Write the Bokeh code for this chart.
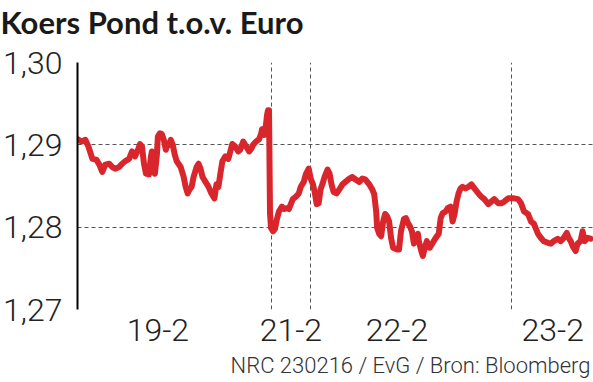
from bokeh.plotting import figure
from bokeh.models import Range1d, FixedTicker, ColumnDataSource, Title
from bokeh.embed import file_html
from bokeh.resources import INLINE

# hours since start of the chart window
uren = [0, 1, 2, 2.75, 3.75, 4.75, 5.5, 6.25, 7, 8, 8.75, 9.5, 10.5, 11.25, 12, 13, 13.75, 14.5,
        15.25, 15.75, 16.25, 16.75, 17.25, 18, 18.5, 18.75, 19.25, 19.5, 20, 20.25, 20.75, 21.25,
        21.75, 22.25, 22.5, 23, 23.5, 24, 24.5, 25, 26, 26.75, 27.25, 27.75, 28.25, 28.75, 29.25,
        30, 30.5, 31, 31.5, 32.25, 33, 33.75, 34.5, 35, 35.5, 36, 36.5, 37.25, 38, 38.5, 39, 39.75,
        40.5, 41, 41.75, 42.5, 43.25, 43.75, 44.25, 45, 45.75, 46.25, 46.5, 47, 47.5, 47.75, 48,
        48.25, 48.5, 48.75, 49.25, 49.75, 50.25, 50.75, 51.5, 52, 52.75, 53.25, 53.75, 54.25, 55,
        55.75, 56.25, 57, 57.5, 58.25, 58.75, 59.25, 59.75, 60.25, 60.75, 61.25, 61.75, 62.25, 63,
        63.5, 64, 64.5, 65.25, 66, 66.75, 67.5, 68.5, 69.25, 70, 71, 71.75, 72.5, 73.5, 74.25,
        74.75, 75.25, 75.5, 76, 76.5, 77, 77.5, 78, 78.5, 79, 79.5, 80.5, 81, 81.5, 82.25, 82.75,
        83.25, 83.75, 84.25, 84.75, 85.25, 85.75, 86, 86.5, 87, 87.5, 88, 88.75, 89.5, 90.25, 91,
        91.5, 92, 92.75, 93.25, 94, 94.5, 95, 95.5, 96, 96.5, 97, 97.75, 98.5, 99.25, 100, 101,
        101.75, 102.5, 103.5, 104.25, 105, 106, 106.75, 107.5, 108.5, 109.25, 110, 111, 111.75,
        112.5, 113.5, 114.25, 115, 116, 116.75, 117.5, 118.5, 119.25, 120, 121, 121.75, 122.5,
        123.25, 123.75, 124.25, 124.75, 125.5, 126, 126.75, 127.25, 127.75, 128.5, 129.25]

koers = [1.2907, 1.2904, 1.2906, 1.2898, 1.2883, 1.2882, 1.2876, 1.2867, 1.2876, 1.2877, 1.2873,
         1.2871, 1.2873, 1.2877, 1.2880, 1.2883, 1.2892, 1.2886, 1.2894, 1.2901, 1.2898, 1.2877,
         1.2865, 1.2864, 1.2886, 1.2892, 1.2877, 1.2865, 1.2888, 1.2910, 1.2914, 1.2913, 1.2906,
         1.2894, 1.2898, 1.2900, 1.2906, 1.2900, 1.2888, 1.2880, 1.2873, 1.2861, 1.2849, 1.2841,
         1.2846, 1.2849, 1.2861, 1.2873, 1.2877, 1.2871, 1.2861, 1.2855, 1.2849, 1.2841, 1.2835,
         1.2852, 1.2849, 1.2865, 1.2880, 1.2886, 1.2883, 1.2892, 1.2901, 1.2898, 1.2892, 1.2894,
         1.2904, 1.2898, 1.2892, 1.2895, 1.2900, 1.2904, 1.2907, 1.2913, 1.2919, 1.2912, 1.2925,
         1.2936, 1.2942, 1.2942, 1.2817, 1.2799, 1.2795, 1.2798, 1.2810, 1.2819, 1.2825, 1.2822,
         1.2823, 1.2822, 1.2828, 1.2834, 1.2837, 1.2841, 1.2849, 1.2855, 1.2864, 1.2871, 1.2859,
         1.2853, 1.2843, 1.2828, 1.2829, 1.2846, 1.2853, 1.2861, 1.2870, 1.2865, 1.2852, 1.2843,
         1.2841, 1.2846, 1.2852, 1.2855, 1.2859, 1.2861, 1.2858, 1.2855, 1.2859, 1.2858, 1.2852,
         1.2846, 1.2840, 1.2819, 1.2799, 1.2792, 1.2789, 1.2807, 1.2816, 1.2813, 1.2807, 1.2787,
         1.2775, 1.2773, 1.2773, 1.2795, 1.2810, 1.2811, 1.2805, 1.2801, 1.2795, 1.2780, 1.2787,
         1.2792, 1.2783, 1.2773, 1.2765, 1.2775, 1.2783, 1.2775, 1.2781, 1.2787, 1.2792, 1.2811,
         1.2817, 1.2819, 1.2823, 1.2825, 1.2807, 1.2816, 1.2831, 1.2841, 1.2847, 1.2849, 1.2847,
         1.2849, 1.2852, 1.2847, 1.2841, 1.2837, 1.2834, 1.2828, 1.2831, 1.2834, 1.2829, 1.2829,
         1.2831, 1.2835, 1.2835, 1.2835, 1.2834, 1.2829, 1.2819, 1.2816, 1.2807, 1.2804, 1.2792,
         1.2787, 1.2783, 1.2781, 1.2780, 1.2783, 1.2786, 1.2783, 1.2787, 1.2793, 1.2787, 1.2783,
         1.2777, 1.2771, 1.2780, 1.2783, 1.2795, 1.2783, 1.2787, 1.2786]

dag_grenzen = [48.75, 58.75, 109.25]
dag_posities = [20.25, 53.75, 80.5, 119.75]
dag_labels = ["19-2", "21-2", "22-2", "23-2"]
y_ticks = [1.27, 1.28, 1.29, 1.30]
y_labels = ["1,27", "1,28", "1,29", "1,30"]

titel = "Koers Pond t.o.v. Euro"
bron = "NRC 230216 / EvG / Bron: Bloomberg"

LABEL_FONT = "Roboto Light, Roboto"

p = figure(width=593, height=382, output_backend="svg", toolbar_location=None,
           x_range=Range1d(0, 130), y_range=Range1d(1.27, 1.30),
           min_border_left=73, min_border_right=0, min_border_top=60, min_border_bottom=73)
p.outline_line_color = None
p.background_fill_color = "white"
p.border_fill_color = "white"

src = ColumnDataSource(dict(x=uren, y=koers))
p.line("x", "y", source=src, line_color="#d9262c", line_width=6, line_join="round", line_cap="round")

# y axis
p.yaxis.ticker = FixedTicker(ticks=y_ticks)
p.yaxis.major_label_overrides = {t: l for t, l in zip(y_ticks, y_labels)}
p.yaxis.axis_line_color = "black"
p.yaxis.axis_line_width = 2
p.yaxis.major_tick_line_color = None
p.yaxis.minor_tick_line_color = None
p.yaxis.major_label_standoff = 9
p.yaxis.major_label_text_font = LABEL_FONT
p.yaxis.major_label_text_font_size = "32px"
p.yaxis.major_label_text_color = "#222222"

# x axis
p.xaxis.ticker = FixedTicker(ticks=dag_posities)
p.xaxis.major_label_overrides = {t: l for t, l in zip(dag_posities, dag_labels)}
p.xaxis.axis_line_color = None
p.xaxis.major_tick_line_color = None
p.xaxis.minor_tick_line_color = None
p.xaxis.major_label_standoff = 3
p.xaxis.major_label_text_font = LABEL_FONT
p.xaxis.major_label_text_font_size = "32px"
p.xaxis.major_label_text_color = "#222222"

# grids
p.ygrid.ticker = FixedTicker(ticks=y_ticks)
p.ygrid.grid_line_color = "#555555"
p.ygrid.grid_line_dash = "4 3"
p.ygrid.grid_line_width = 1
p.xgrid.ticker = FixedTicker(ticks=dag_grenzen)
p.xgrid.grid_line_color = "#555555"
p.xgrid.grid_line_dash = "4 3"
p.xgrid.grid_line_width = 1

# spacer between chart title and frame
p.add_layout(Title(text=" ", text_font_size="12px", standoff=5), "above")

p.title.text = titel
p.title.align = "left"
p.title.offset = -77
p.title.standoff = 1
p.title.text_font = "Lato"
p.title.text_font_style = "bold"
p.title.text_font_size = "31px"
p.title.text_color = "#1a1a1a"

# spacer between axis labels and source line
p.add_layout(Title(text=" ", text_font_size="3px", standoff=2), "below")
p.add_layout(Title(text=bron, align="right", offset=3,
                   text_font=LABEL_FONT, text_font_size="22px",
                   text_font_style="normal", text_color="#333333", standoff=0), "below")

open("out.html", "w").write(file_html(p, INLINE))
